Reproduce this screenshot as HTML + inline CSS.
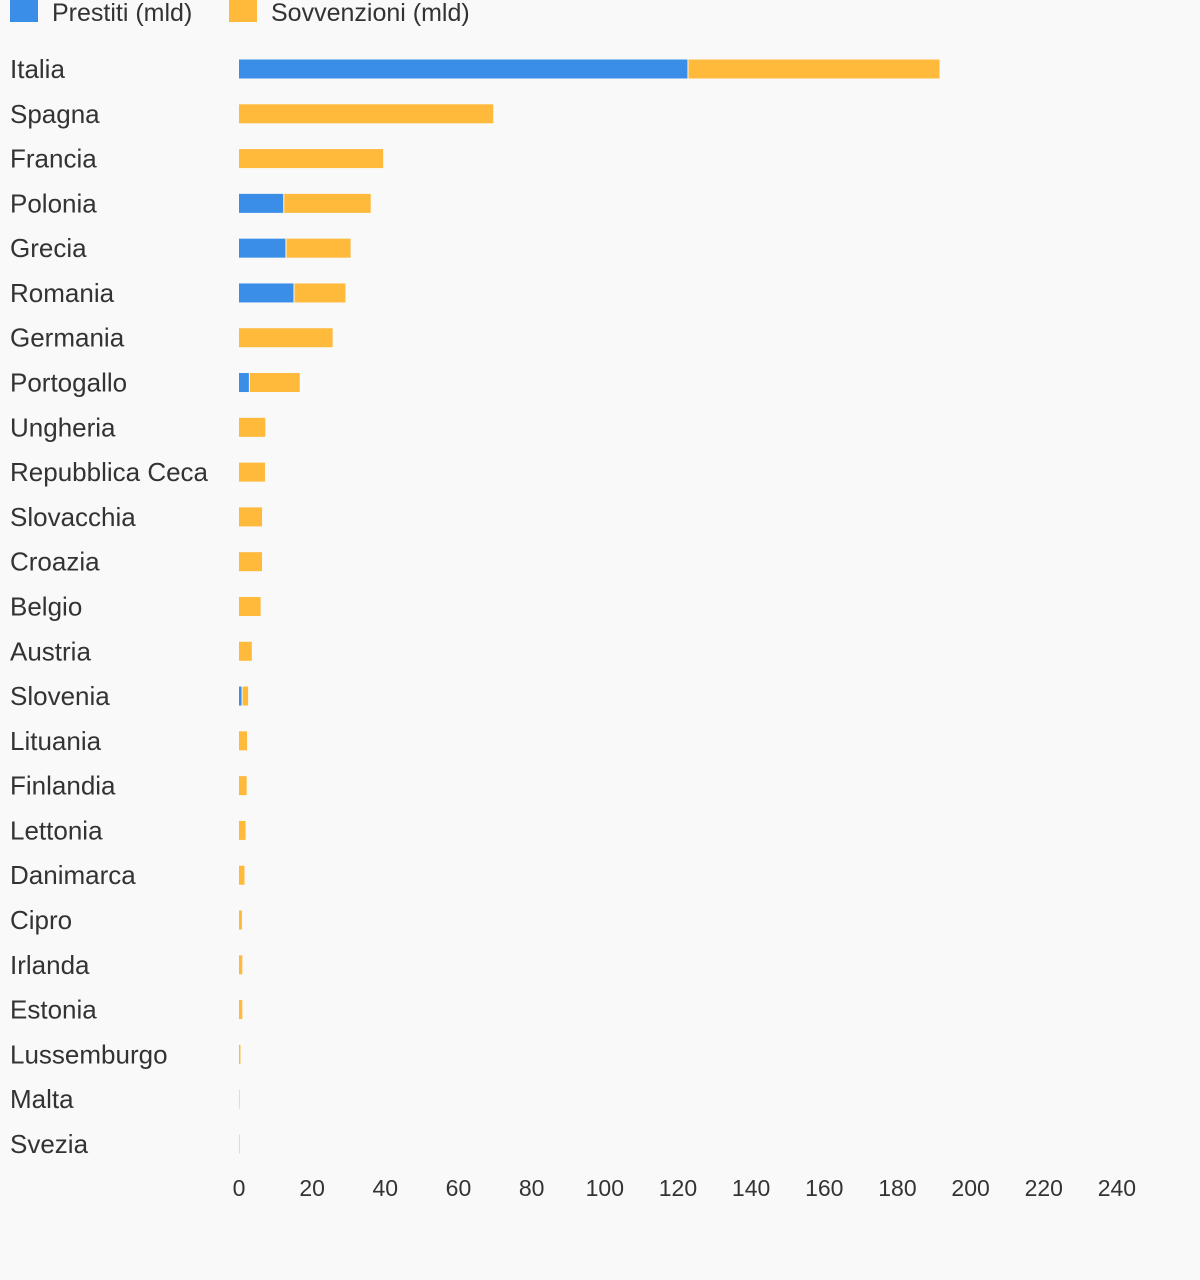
<!DOCTYPE html>
<html><head><meta charset="utf-8"><style>
body{margin:0;background:#f9f9f9;}
svg{display:block;font-family:"Liberation Sans",sans-serif;}
</style></head><body>
<svg id="chart" width="1200" height="1280" viewBox="0 0 1200 1280">
<rect width="1200" height="1280" fill="#f9f9f9"/>
<g>
<rect x="10" y="0" width="28" height="22" fill="#3a8ee8"/>
<text x="52" y="21" font-size="25" fill="#333">Prestiti (mld)</text>
<rect x="229" y="0" width="28" height="22" fill="#ffb93b"/>
<text x="271" y="21" font-size="25" fill="#333">Sovvenzioni (mld)</text>
</g>
<g id="bars"></g>
<g id="labels"></g>
<g id="ticks"></g>
</svg>
<script>
const categories=["Italia","Spagna","Francia","Polonia","Grecia","Romania","Germania","Portogallo","Ungheria","Repubblica Ceca","Slovacchia","Croazia","Belgio","Austria","Slovenia","Lituania","Finlandia","Lettonia","Danimarca","Cipro","Irlanda","Estonia","Lussemburgo","Malta","Svezia"];
const prestiti=[122.6,0,0,12.1,12.7,14.9,0,2.7,0,0,0,0,0,0,0.7,0,0,0,0,0,0,0,0,0,0];
const sovvenzioni=[68.9,69.5,39.4,23.9,17.8,14.2,25.6,13.9,7.2,7.1,6.3,6.3,5.9,3.5,1.8,2.2,2.1,1.8,1.5,0.8,0.9,0.9,0.4,0.1,0.1];
const tickValues=[0,20,40,60,80,100,120,140,160,180,200,220,240];
const NS="http://www.w3.org/2000/svg";
const x0=239, pxPerUnit=3.658;
function xScale(v){return x0+v*pxPerUnit;}
function yCenter(i){return 69+i*44.79;}
const barH=19;
const bars=document.getElementById('bars'),labels=document.getElementById('labels'),ticks=document.getElementById('ticks');
function mk(tag,attrs){const e=document.createElementNS(NS,tag);for(const k in attrs)e.setAttribute(k,attrs[k]);return e;}
categories.forEach((c,i)=>{
  const yc=yCenter(i);
  const t=mk('text',{x:10,y:yc+9,'font-size':26,fill:'#333'});
  t.textContent=c;
  
  
  labels.appendChild(t);
  const p=prestiti[i],s=sovvenzioni[i];
  if(p>0){
    const r=mk('rect',{x:xScale(0),y:yc-barH/2,width:xScale(p)-xScale(0),height:barH,fill:'#3a8ee8'});
    
    
    bars.appendChild(r);
  }
  if(s>0){
    const off=p>0?1:0;
    const r=mk('rect',{x:xScale(p)+off,y:yc-barH/2,width:Math.max(0.5,xScale(p+s)-xScale(p)-off),height:barH,fill:'#ffb93b'});
    
    
    bars.appendChild(r);
  }
});
tickValues.forEach(v=>{
  const t=mk('text',{x:xScale(v),y:1196,'font-size':23,fill:'#333','text-anchor':'middle'});
  t.textContent=v;
  
  
  ticks.appendChild(t);
});
</script>
</body></html>
